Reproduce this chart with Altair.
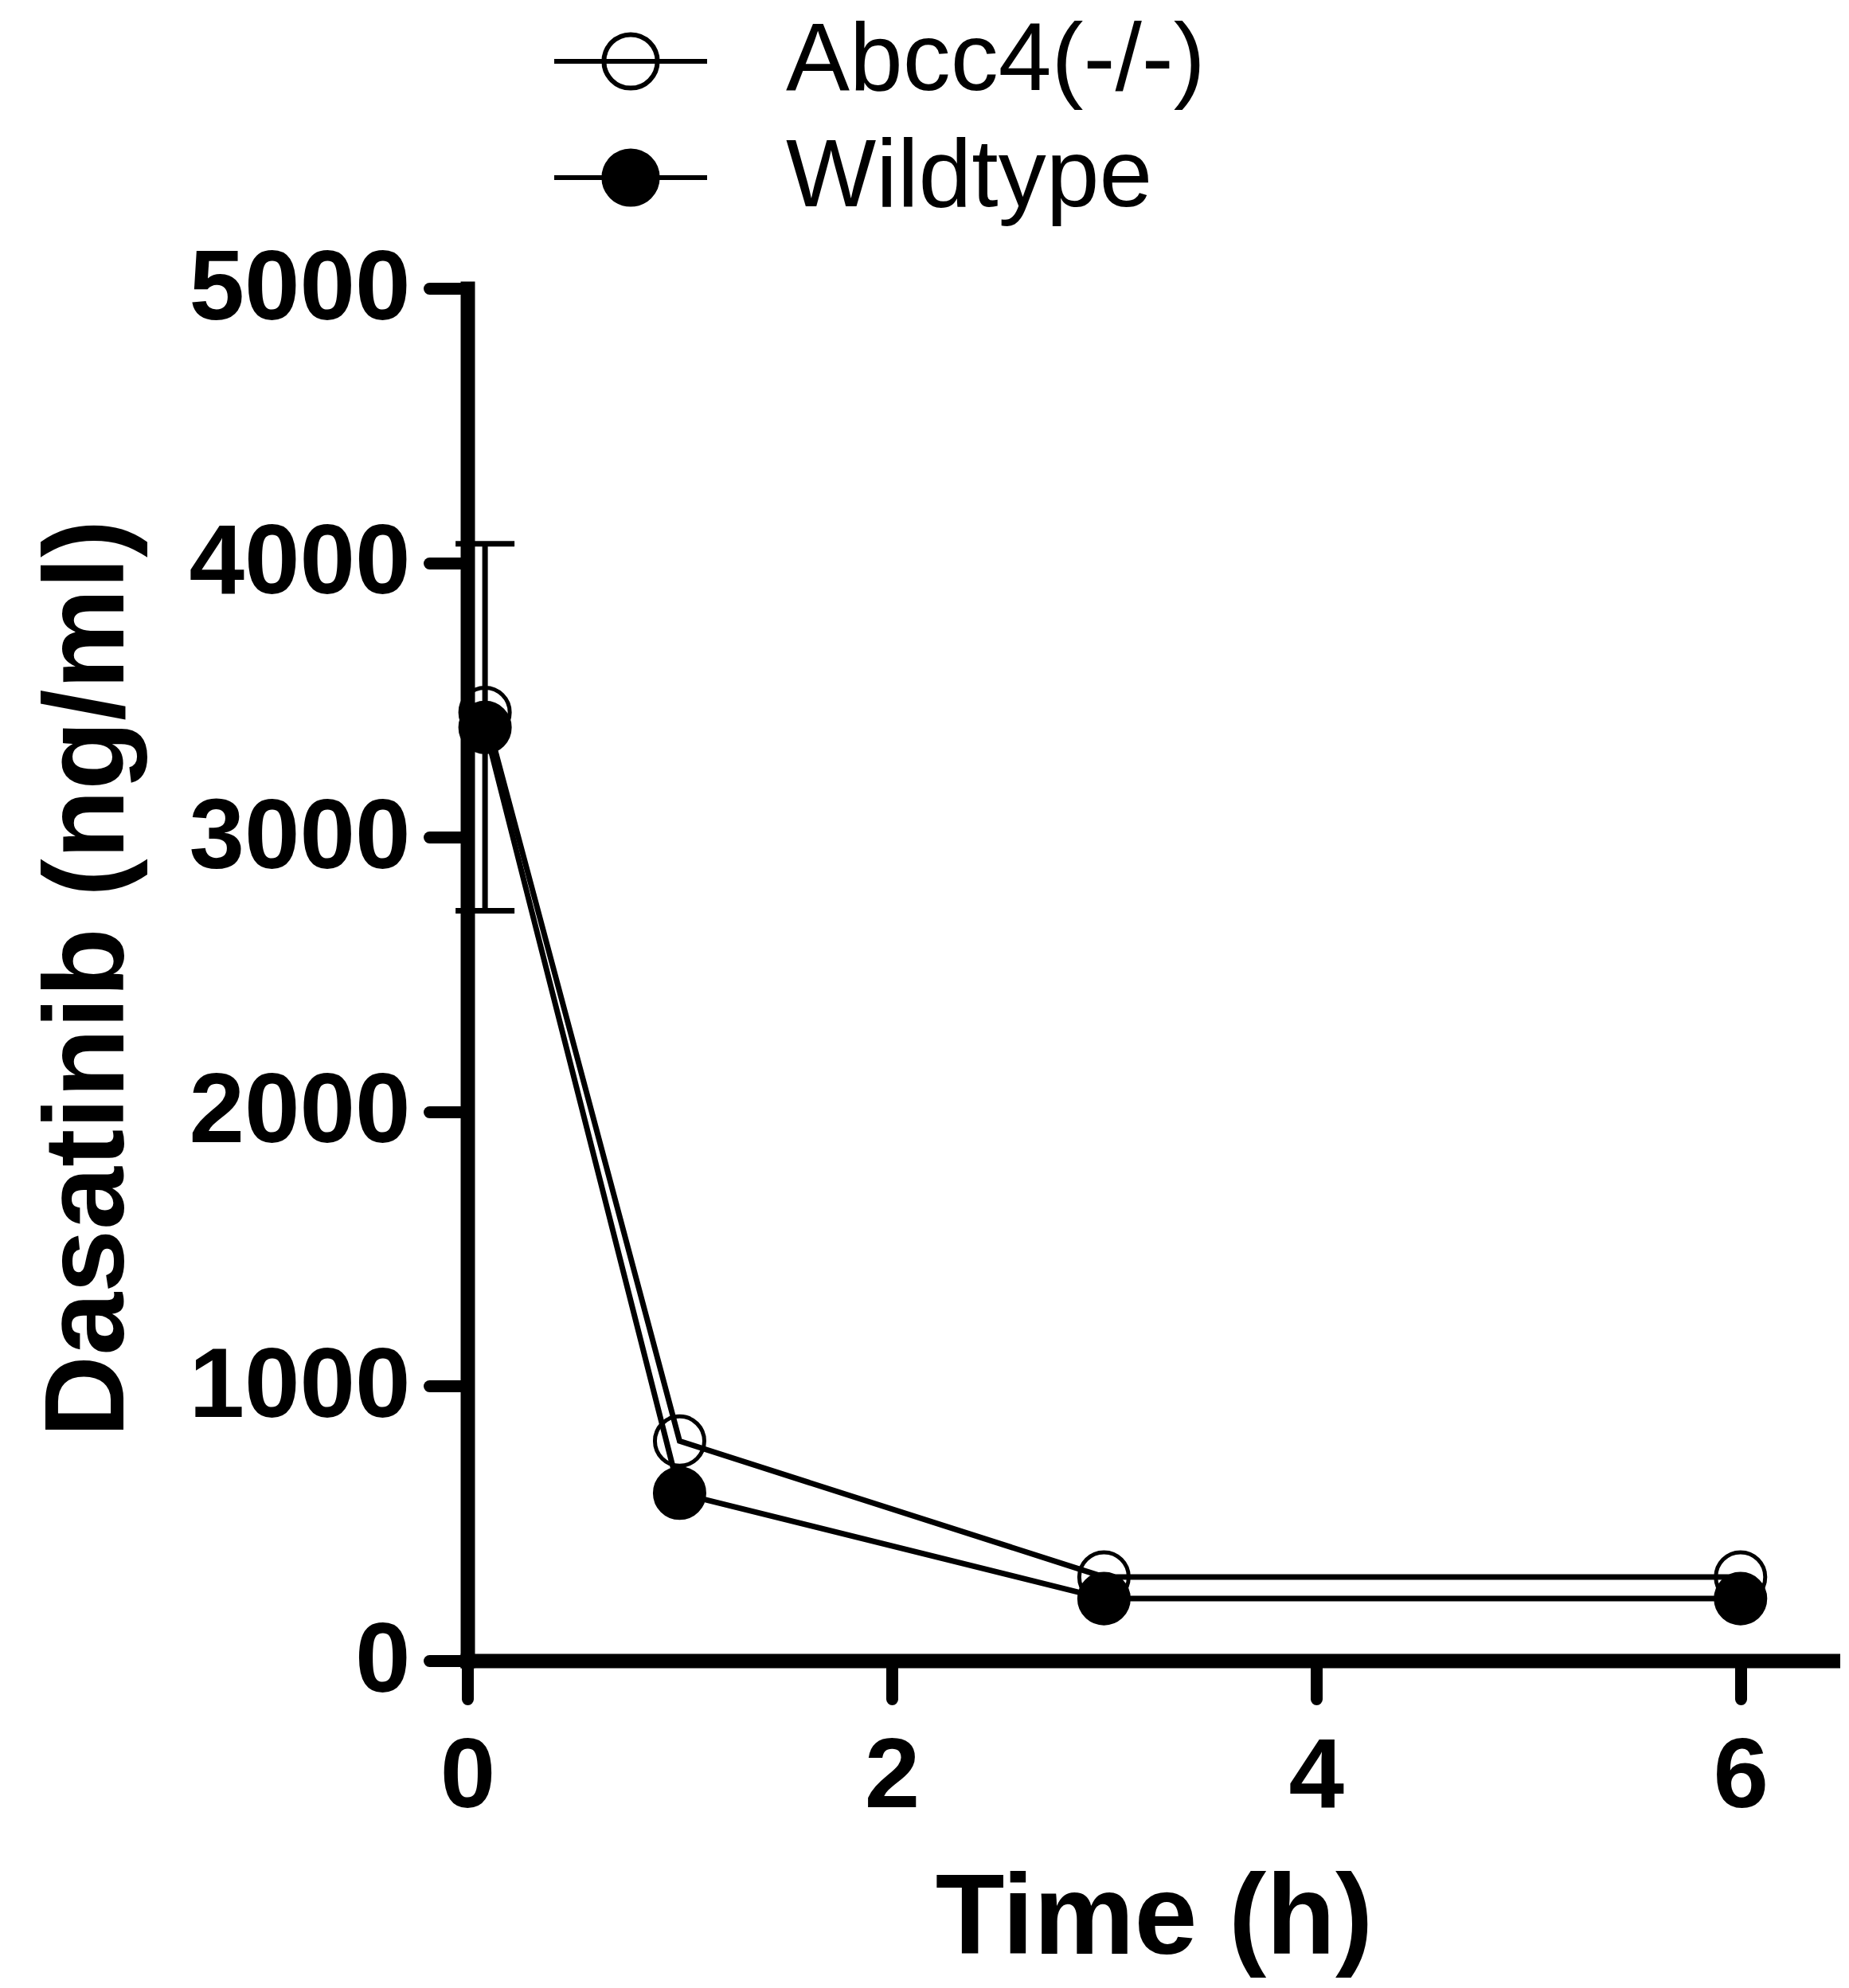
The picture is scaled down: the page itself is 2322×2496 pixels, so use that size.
import altair as alt
import pandas as pd

# ---- data ----
time_h = [0.083, 1, 3, 6]
abcc4 = [3455, 800, 305, 305]
wildtype = [3400, 610, 226, 226]
groups = ["Abcc4(-/-)", "Wildtype"]
err_time = [0.083]
err_low = [2732]
err_high = [4069]
y_ticks = [0, 1000, 2000, 3000, 4000, 5000]
x_ticks = [0, 2, 4, 6]

rows = []
for g, vals in zip(groups, [abcc4, wildtype]):
    for t, v in zip(time_h, vals):
        rows.append({"time": t, "conc": v, "group": g})
df = pd.DataFrame(rows)
err = pd.DataFrame({"time": err_time, "low": err_low, "high": err_high})

FONT = "Liberation Sans"
xscale = alt.Scale(domain=[0, 6.47], nice=False, zero=False)
yscale = alt.Scale(domain=[0, 5000], nice=False)

x_enc = alt.X("time:Q", scale=xscale,
              axis=alt.Axis(values=x_ticks, format="d", title="Time (h)",
                            labelPadding=36, titleBaseline="alphabetic",
                            titleY=367, labelFlush=False, labelOverlap=False,
                            labelLimit=1000))
y_enc = alt.Y("conc:Q", scale=yscale,
              axis=alt.Axis(values=y_ticks, format="d", title="Dasatinib (ng/ml)",
                            labelPadding=24, titleBaseline="alphabetic",
                            titleX=-433, titleY=866, labelFlush=False,
                            labelOverlap=False, labelLimit=1000))

lines = alt.Chart(df).mark_line(color="black", strokeWidth=7).encode(
    x=x_enc, y=y_enc, detail="group:N"
)

err_rule = alt.Chart(err).mark_rule(color="black", strokeWidth=7).encode(
    x=alt.X("time:Q", scale=xscale), y=alt.Y("low:Q", scale=yscale), y2="high:Q"
)
err_caps_hi = alt.Chart(err).mark_tick(color="black", orient="horizontal",
                                       size=74, thickness=7, opacity=1).encode(
    x=alt.X("time:Q", scale=xscale), y=alt.Y("high:Q", scale=yscale)
)
err_caps_lo = alt.Chart(err).mark_tick(color="black", orient="horizontal",
                                       size=74, thickness=7, opacity=1).encode(
    x=alt.X("time:Q", scale=xscale), y=alt.Y("low:Q", scale=yscale)
)

legend_path = "M-1,0L1,0M0.35,0A0.35,0.35,0,1,1,-0.35,0A0.35,0.35,0,1,1,0.35,0Z"

points = alt.Chart(df).mark_point(filled=True, shape="circle", size=3848,
                                  stroke="black", strokeWidth=5, opacity=1).encode(
    x=alt.X("time:Q", scale=xscale),
    y=alt.Y("conc:Q", scale=yscale),
    fill=alt.Fill("group:N",
                  scale=alt.Scale(domain=groups, range=["transparent", "black"]),
                  legend=alt.Legend(title=None, orient="none", legendX=106,
                                    legendY=-345, symbolType=legend_path,
                                    symbolSize=36864, symbolStrokeWidth=6,
                                    symbolStrokeColor="black", symbolOpacity=1,
                                    clipHeight=120, rowPadding=26,
                                    labelOffset=96, labelFont=FONT,
                                    labelFontSize=120, labelFontWeight="normal",
                                    labelColor="black", labelLimit=3000,
                                    padding=0, offset=0)),
    order=alt.Order("group:N")
)

chart = alt.layer(lines, err_rule, err_caps_hi, err_caps_lo, points).properties(
    width=1724, height=1723,
    autosize=alt.AutoSizeParams(type="none"),
    padding={"left": 579, "top": 354, "right": 0, "bottom": 398},
    background="white",
).configure_view(stroke=None).configure_axis(
    grid=False,
    domainColor="black", domainWidth=18, domainCap="square",
    tickColor="black", tickWidth=15, tickSize=48, tickCap="round",
    labelFont=FONT, labelFontSize=125, labelFontWeight="bold", labelColor="black",
    titleFont=FONT, titleFontSize=142, titleFontWeight="bold", titleColor="black",
)

chart.save("out.html", embed_options={"renderer": "svg", "actions": False})
